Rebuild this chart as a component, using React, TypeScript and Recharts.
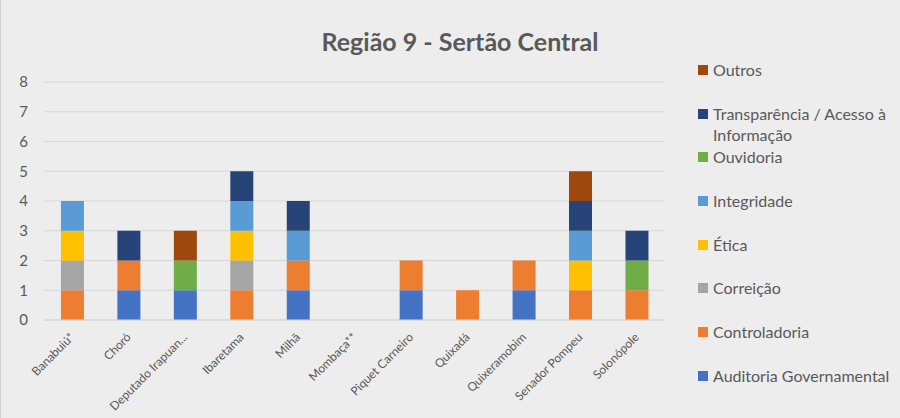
import React from 'react';
import { BarChart, Bar, XAxis, YAxis, CartesianGrid } from 'recharts';

// municípios (rótulos do eixo X)
const municipios = [
    'Banabuiú*',
    'Choró',
    'Deputado Irapuan...',
    'Ibaretama',
    'Milhã',
    'Mombaça**',
    'Piquet Carneiro',
    'Quixadá',
    'Quixeramobim',
    'Senador Pompeu',
    'Solonópole',
];

// valores por série, na mesma ordem dos municípios
const auditoria = [0, 1, 1, 0, 1, 0, 1, 0, 1, 0, 0];
const controladoria = [1, 1, 0, 1, 1, 0, 1, 1, 1, 1, 1];
const correicao = [1, 0, 0, 1, 0, 0, 0, 0, 0, 0, 0];
const etica = [1, 0, 0, 1, 0, 0, 0, 0, 0, 1, 0];
const integridade = [1, 0, 0, 1, 1, 0, 0, 0, 0, 1, 0];
const ouvidoria = [0, 0, 1, 0, 0, 0, 0, 0, 0, 0, 1];
const transparencia = [0, 1, 0, 1, 1, 0, 0, 0, 0, 1, 1];
const outros = [0, 0, 1, 0, 0, 0, 0, 0, 0, 1, 0];

const yTicks = [0, 1, 2, 3, 4, 5, 6, 7, 8];

const series = [
    { key: 'Auditoria Governamental', values: auditoria, color: '#4472C4' },
    { key: 'Controladoria', values: controladoria, color: '#ED7D31' },
    { key: 'Correição', values: correicao, color: '#A5A5A5' },
    { key: 'Ética', values: etica, color: '#FFC000' },
    { key: 'Integridade', values: integridade, color: '#5B9BD5' },
    { key: 'Ouvidoria', values: ouvidoria, color: '#70AD47' },
    { key: 'Transparência / Acesso à Informação', values: transparencia, color: '#264478' },
    { key: 'Outros', values: outros, color: '#9E480E' },
];

const data = municipios.map((nome, i) => {
    const row: Record<string, string | number> = { nome };
    series.forEach((s) => {
        row[s.key] = s.values[i];
    });
    return row;
});

const FONT = 'Lato, "Open Sans", sans-serif';
const TEXT = '#595959';

const XTick = (props: any) => {
    const { x, y, payload } = props;
    return (
        <g transform={`translate(${x + 3},${y + 10})`}>
            <text
                transform="rotate(-45)"
                textAnchor="end"
                fontSize={12}
                fill={TEXT}
                fontFamily={FONT}
            >
                {payload.value}
            </text>
        </g>
    );
};

// legenda à direita, ordem invertida como no Excel
const Legenda = () => (
    <div
        style={{
            position: 'absolute',
            left: 697,
            top: 59,
            width: 200,
            fontFamily: FONT,
            fontSize: 16,
            color: TEXT,
        }}
    >
        {[...series].reverse().map((s) => (
            <div key={s.key} style={{ display: 'flex', height: 43.7, lineHeight: '21px' }}>
                <span
                    style={{
                        width: 10,
                        height: 10,
                        background: s.color,
                        marginTop: 6,
                        marginRight: 5,
                        flex: 'none',
                    }}
                />
                <span style={{ width: 190 }}>{s.key}</span>
            </div>
        ))}
    </div>
);

export default function App() {
    return (
        <div
            style={{
                position: 'absolute',
                left: 0,
                top: 0,
                width: 900,
                height: 418,
                background: '#ededed',
                borderLeft: '1px solid #cfcfcf',
                boxSizing: 'border-box',
            }}
        >
            <div
                style={{
                    position: 'absolute',
                    left: 0,
                    width: 918,
                    top: 26,
                    textAlign: 'center',
                    fontFamily: FONT,
                    fontWeight: 'bold',
                    fontSize: 25,
                    color: TEXT,
                }}
            >
                Região 9 - Sertão Central
            </div>
            <BarChart
                width={899}
                height={418}
                data={data}
                margin={{ top: 82, right: 235, left: 0, bottom: 0 }}
                barCategoryGap="30%"
            >
                <CartesianGrid vertical={false} stroke="#d6d6d6" />
                <XAxis
                    dataKey="nome"
                    interval={0}
                    height={98}
                    axisLine={{ stroke: '#d6d6d6' }}
                    tickLine={false}
                    tick={<XTick />}
                />
                <YAxis
                    domain={[0, 8]}
                    ticks={yTicks}
                    width={43}
                    axisLine={false}
                    tickLine={false}
                    tickSize={0}
                    tickMargin={16}
                    tick={{ fontSize: 15, fill: TEXT, fontFamily: FONT }}
                />
                {series.map((s) => (
                    <Bar
                        key={s.key}
                        dataKey={s.key}
                        stackId="a"
                        fill={s.color}
                        isAnimationActive={false}
                    />
                ))}
            </BarChart>
            <Legenda />
        </div>
    );
}
